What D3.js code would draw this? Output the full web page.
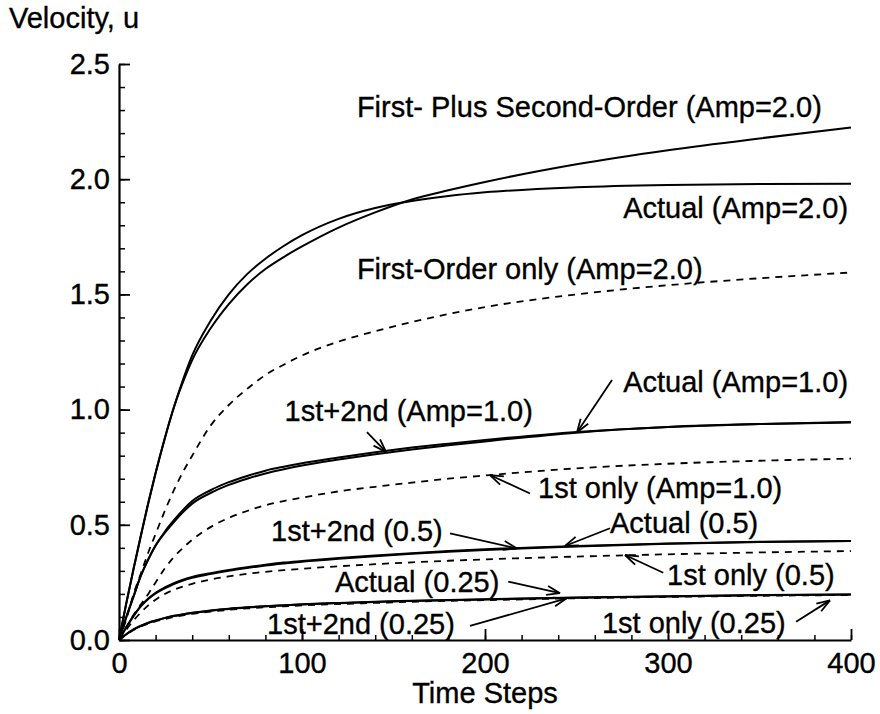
<!DOCTYPE html>
<html>
<head>
<meta charset="utf-8">
<script src="https://cdn.jsdelivr.net/npm/d3@7"></script>
<style>
  html, body { margin: 0; padding: 0; background: #fff; }
  svg text { font-family: "Liberation Sans", Arial, Helvetica, sans-serif; fill: #000; }
</style>
</head>
<body>
<svg id="chart" width="880" height="714"></svg>
<script>
// ---------------- DATA ----------------
const timeSteps = [0, 4, 8, 12, 16, 20, 25, 30, 35, 40, 50, 60, 70, 80, 90, 100, 120, 140, 160, 180, 200, 250, 300, 350, 400];

const actualAmp2      = [0, 0.16, 0.31, 0.455, 0.595, 0.725, 0.875, 1.01, 1.13, 1.235, 1.385, 1.5, 1.588, 1.655, 1.71, 1.757, 1.828, 1.875, 1.905, 1.927, 1.943, 1.965, 1.975, 1.979, 1.98];
const firstSecondAmp2 = [0, 0.16, 0.31, 0.455, 0.595, 0.725, 0.875, 1.01, 1.12, 1.215, 1.352, 1.458, 1.543, 1.61, 1.662, 1.708, 1.79, 1.856, 1.912, 1.952, 1.988, 2.065, 2.126, 2.177, 2.224];
const firstOnlyAmp2   = [0, 0.09, 0.2, 0.29, 0.38, 0.46, 0.56, 0.65, 0.73, 0.8, 0.93, 1.02, 1.09, 1.15, 1.195, 1.235, 1.295, 1.34, 1.38, 1.415, 1.445, 1.5, 1.54, 1.57, 1.595];

const actualAmp1      = [0, 0.1, 0.19, 0.28, 0.35, 0.41, 0.47, 0.52, 0.565, 0.603, 0.65, 0.685, 0.712, 0.735, 0.752, 0.767, 0.792, 0.815, 0.835, 0.852, 0.868, 0.903, 0.925, 0.937, 0.944];
const firstSecondAmp1 = [0, 0.1, 0.19, 0.28, 0.35, 0.41, 0.465, 0.512, 0.555, 0.592, 0.638, 0.673, 0.7, 0.723, 0.741, 0.757, 0.783, 0.806, 0.827, 0.845, 0.862, 0.9, 0.924, 0.937, 0.946];
const firstOnlyAmp1   = [0, 0.055, 0.11, 0.155, 0.2, 0.25, 0.31, 0.36, 0.4, 0.435, 0.49, 0.53, 0.56, 0.585, 0.603, 0.618, 0.645, 0.665, 0.683, 0.7, 0.714, 0.745, 0.765, 0.778, 0.787];

const actualAmp05      = [0, 0.055, 0.105, 0.148, 0.18, 0.205, 0.228, 0.247, 0.262, 0.274, 0.29, 0.304, 0.316, 0.327, 0.336, 0.343, 0.356, 0.367, 0.377, 0.386, 0.394, 0.408, 0.419, 0.426, 0.43];
const firstSecondAmp05 = [0, 0.055, 0.105, 0.147, 0.178, 0.202, 0.224, 0.243, 0.258, 0.27, 0.286, 0.3, 0.312, 0.323, 0.332, 0.34, 0.353, 0.364, 0.374, 0.383, 0.391, 0.406, 0.418, 0.425, 0.43];
const firstOnlyAmp05   = [0, 0.045, 0.085, 0.12, 0.15, 0.175, 0.2, 0.218, 0.232, 0.244, 0.262, 0.276, 0.287, 0.296, 0.303, 0.309, 0.32, 0.329, 0.337, 0.344, 0.35, 0.362, 0.372, 0.38, 0.386];

const actualAmp025      = [0, 0.025, 0.046, 0.062, 0.075, 0.085, 0.096, 0.105, 0.112, 0.118, 0.128, 0.136, 0.142, 0.147, 0.151, 0.155, 0.161, 0.166, 0.17, 0.174, 0.177, 0.184, 0.19, 0.195, 0.198];
const firstSecondAmp025 = [0, 0.025, 0.046, 0.061, 0.074, 0.084, 0.095, 0.104, 0.111, 0.117, 0.127, 0.135, 0.141, 0.146, 0.15, 0.154, 0.16, 0.165, 0.169, 0.173, 0.176, 0.183, 0.189, 0.194, 0.197];
const firstOnlyAmp025   = [0, 0.024, 0.044, 0.059, 0.071, 0.081, 0.091, 0.1, 0.107, 0.113, 0.123, 0.131, 0.137, 0.142, 0.146, 0.15, 0.156, 0.161, 0.166, 0.17, 0.173, 0.181, 0.187, 0.192, 0.195];

const xTickValues = [0, 100, 200, 300, 400];
const yTickValues = [0.0, 0.5, 1.0, 1.5, 2.0, 2.5];
const xTickLabels = ["0", "100", "200", "300", "400"];
const yTickLabels = ["0.0", "0.5", "1.0", "1.5", "2.0", "2.5"];
const xMinorTicks = d3.range(0, 401, 20);
const yMinorTicks = d3.range(0, 26, 1).map(d => d / 10);

const axisTitles = { x: "Time Steps", y: "Velocity, u" };

const seriesList = [
  { name: "Actual (Amp=2.0)", values: actualAmp2, dashed: false },
  { name: "First- Plus Second-Order (Amp=2.0)", values: firstSecondAmp2, dashed: false },
  { name: "First-Order only (Amp=2.0)", values: firstOnlyAmp2, dashed: true },
  { name: "Actual (Amp=1.0)", values: actualAmp1, dashed: false },
  { name: "1st+2nd (Amp=1.0)", values: firstSecondAmp1, dashed: false },
  { name: "1st only (Amp=1.0)", values: firstOnlyAmp1, dashed: true },
  { name: "Actual (0.5)", values: actualAmp05, dashed: false },
  { name: "1st+2nd (0.5)", values: firstSecondAmp05, dashed: false },
  { name: "1st only (0.5)", values: firstOnlyAmp05, dashed: true },
  { name: "Actual (0.25)", values: actualAmp025, dashed: false },
  { name: "1st+2nd (0.25)", values: firstSecondAmp025, dashed: false },
  { name: "1st only (0.25)", values: firstOnlyAmp025, dashed: true }
];

// annotation labels, in data units (t, u) at the text baseline
const labelTexts  = ["First- Plus Second-Order (Amp=2.0)", "Actual (Amp=2.0)", "First-Order only (Amp=2.0)",
                     "1st+2nd (Amp=1.0)", "Actual (Amp=1.0)", "1st only (Amp=1.0)",
                     "1st+2nd (0.5)", "Actual (0.5)", "1st only (0.5)",
                     "Actual (0.25)", "1st+2nd (0.25)", "1st only (0.25)"];
const labelT      = [130.0, 398.4, 130.0, 90.5, 398.4, 229.0, 83.1, 268.3, 299.5, 118.0, 80.9, 263.9];
const labelU      = [2.270, 1.832, 1.567, 0.951, 1.076, 0.616, 0.430, 0.464, 0.240, 0.208, 0.026, 0.030];
const labelAnchor = ["start", "end", "start", "start", "end", "start", "start", "start", "start", "start", "start", "start"];

// arrows (tail -> tip), in data units
const arrowTailT = [135.5, 269.4, 224.6, 180.9, 268.3, 297.4, 212.7, 191.8, 370.0];
const arrowTailU = [0.902, 1.128, 0.636, 0.463, 0.485, 0.292, 0.253, 0.061, 0.079];
const arrowTipT  = [145.9, 250.3, 202.7, 217.3, 243.7, 276.5, 241.0, 244.6, 388.5];
const arrowTipU  = [0.816, 0.902, 0.716, 0.398, 0.408, 0.369, 0.203, 0.181, 0.172];

// ---------------- CHART ----------------
const svg = d3.select("#chart");
const x = d3.scaleLinear().domain([0, 400]).range([119, 851]);
const y = d3.scaleLinear().domain([0, 2.5]).range([640, 64]);

const font = '"Liberation Sans", Arial, Helvetica, sans-serif';
const fontSize = 29;

// minor ticks
const gxMinor = svg.append("g").attr("transform", `translate(0,${y(0)})`)
  .call(d3.axisBottom(x).tickValues(xMinorTicks).tickSize(-5).tickFormat(""));
const gyMinor = svg.append("g").attr("transform", `translate(${x(0)},0)`)
  .call(d3.axisLeft(y).tickValues(yMinorTicks).tickSize(-6).tickFormat(""));
[gxMinor, gyMinor].forEach(g => {
  g.select(".domain").remove();
  g.selectAll(".tick line").attr("stroke", "#000").attr("stroke-width", 1.5);
});

// major axes
const gx = svg.append("g").attr("transform", `translate(0,${y(0)})`)
  .call(d3.axisBottom(x).tickValues(xTickValues).tickSize(-11).tickSizeOuter(0)
        .tickFormat((d, i) => xTickLabels[i]));
const gy = svg.append("g").attr("transform", `translate(${x(0)},0)`)
  .call(d3.axisLeft(y).tickValues(yTickValues).tickSize(-11).tickSizeOuter(0)
        .tickFormat((d, i) => yTickLabels[i]));
[gx, gy].forEach(g => {
  g.select(".domain").attr("stroke", "#000").attr("stroke-width", 2.2);
  g.selectAll(".tick line").attr("stroke", "#000").attr("stroke-width", 1.8);
  g.selectAll(".tick text").attr("font-family", font).attr("font-size", fontSize)
    .attr("fill", "#000").attr("stroke", "#000").attr("stroke-width", 0.35);
});
gy.selectAll(".tick text").attr("x", -9);
gx.selectAll(".tick text").attr("y", 12);

// axis titles
svg.append("text").attr("x", 9).attr("y", 28).attr("font-size", fontSize).attr("font-family", font)
  .attr("stroke", "#000").attr("stroke-width", 0.35).text(axisTitles.y);
svg.append("text").attr("x", x(200)).attr("y", 703).attr("text-anchor", "middle")
  .attr("font-size", fontSize).attr("font-family", font)
  .attr("stroke", "#000").attr("stroke-width", 0.35).text(axisTitles.x);

// curves
const line = d3.line().x(d => x(d[0])).y(d => y(d[1])).curve(d3.curveMonotoneX);
svg.append("g").selectAll("path").data(seriesList).join("path")
  .attr("d", s => line(timeSteps.map((t, i) => [t, s.values[i]])))
  .attr("fill", "none")
  .attr("stroke", "#000")
  .attr("stroke-width", s => s.dashed ? 1.8 : 2)
  .attr("stroke-dasharray", s => s.dashed ? "7,6" : null);

// labels
svg.append("g").selectAll("text").data(labelTexts).join("text")
  .attr("x", (d, i) => x(labelT[i]))
  .attr("y", (d, i) => y(labelU[i]))
  .attr("text-anchor", (d, i) => labelAnchor[i])
  .attr("font-family", font)
  .attr("font-size", fontSize)
  .attr("stroke", "#000").attr("stroke-width", 0.35)
  .text(d => d);

// arrows with open heads
const ag = svg.append("g").attr("stroke", "#000").attr("stroke-width", 1.8).attr("fill", "none");
arrowTipT.forEach((_, i) => {
  const x1 = x(arrowTailT[i]), y1 = y(arrowTailU[i]);
  const x2 = x(arrowTipT[i]), y2 = y(arrowTipU[i]);
  ag.append("line").attr("x1", x1).attr("y1", y1).attr("x2", x2).attr("y2", y2);
  const ang = Math.atan2(y1 - y2, x1 - x2);
  const L = 14, a = 0.33;
  [ang + a, ang - a].forEach(b => {
    ag.append("line").attr("x1", x2).attr("y1", y2)
      .attr("x2", x2 + L * Math.cos(b)).attr("y2", y2 + L * Math.sin(b));
  });
});
</script>
</body>
</html>
